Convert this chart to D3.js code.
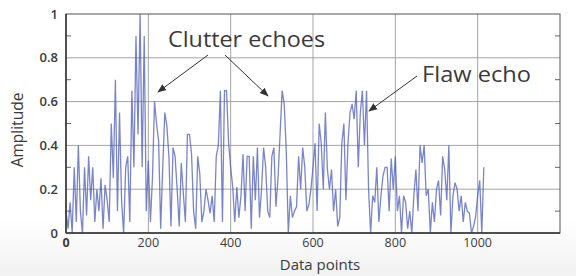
<!DOCTYPE html>
<html><head><meta charset="utf-8">
<script src="https://cdn.jsdelivr.net/npm/d3@7"></script>
<style>
body{margin:0;background:#fff}
svg{display:block}
text{font-family:"Open Sans",sans-serif;fill:#3a3a3a}
</style>
</head><body>
<svg id="c" width="576" height="276"></svg>
<script>
// Amplitude samples, one every 5 data points (index 0 .. 1015)
const amplitude = [
  0.10,0.02,0.14,0.00,0.30,0.05,0.40,0.10,0.00,0.30,0.08,0.35,0.15,0.30,0.05,0.20,0.10,0.25,0.02,0.22,
  0.15,0.05,0.50,0.25,0.70,0.10,0.55,0.15,0.00,0.30,0.35,0.05,0.65,0.30,0.90,0.45,1.00,0.30,0.90,0.10,
  0.33,0.05,0.25,0.60,0.50,0.42,0.02,0.30,0.55,0.49,0.35,0.03,0.39,0.35,0.20,0.03,0.32,0.18,0.05,0.45,
  0.45,0.36,0.10,0.02,0.35,0.27,0.05,0.10,0.20,0.15,0.09,0.17,0.05,0.35,0.40,0.65,0.05,0.65,0.65,0.41,
  0.30,0.21,0.05,0.21,0.07,0.17,0.36,0.10,0.35,0.35,0.02,0.35,0.15,0.39,0.07,0.20,0.39,0.30,0.10,0.07,
  0.35,0.39,0.12,0.25,0.45,0.65,0.59,0.38,0.00,0.17,0.07,0.10,0.12,0.35,0.20,0.39,0.30,0.10,0.13,0.20,
  0.30,0.41,0.10,0.50,0.41,0.20,0.55,0.29,0.20,0.29,0.10,0.20,0.03,0.07,0.41,0.50,0.15,0.41,0.55,0.59,
  0.52,0.65,0.30,0.55,0.65,0.40,0.65,0.20,0.00,0.17,0.14,0.30,0.05,0.17,0.26,0.30,0.30,0.10,0.34,0.20,
  0.35,0.10,0.17,0.00,0.17,0.14,0.02,0.10,0.00,0.17,0.29,0.10,0.40,0.32,0.40,0.17,0.20,0.00,0.14,0.05,
  0.20,0.24,0.08,0.35,0.29,0.15,0.40,0.00,0.17,0.23,0.20,0.10,0.17,0.05,0.14,0.10,0.09,0.00,0.03,0.075,
  0.17,0.24,0.00,0.30
];
const sampleStep = 5;
const xTicks = [0, 200, 400, 600, 800, 1000];
const xTickLabels = ["0", "200", "400", "600", "800", "1000"];
const yTicks = [0, 0.2, 0.4, 0.6, 0.8, 1];
const yTickLabels = ["0", "0.2", "0.4", "0.6", "0.8", "1"];
const yMinorTicks = [0.1, 0.3, 0.5, 0.7, 0.9];
const xLabel = "Data points";
const yLabel = "Amplitude";

const svg = d3.select("#c");
const W = 576, H = 276;
const m = {l: 66, r: 16, t: 14, b: 43};

// subtle background fade
const defs = svg.append("defs");
const g0 = defs.append("linearGradient").attr("id","bg").attr("x1",0).attr("y1",0).attr("x2",0).attr("y2",1);
g0.append("stop").attr("offset","0%").attr("stop-color","#ffffff");
g0.append("stop").attr("offset","80%").attr("stop-color","#ffffff");
g0.append("stop").attr("offset","100%").attr("stop-color","#f1f1f1");
svg.append("rect").attr("width",W).attr("height",H).attr("fill","url(#bg)");

defs.append("marker").attr("id","ah").attr("viewBox","0 0 10 10").attr("refX",9).attr("refY",5)
  .attr("markerWidth",9).attr("markerHeight",9).attr("markerUnits","userSpaceOnUse").attr("orient","auto")
  .append("path").attr("d","M0,1 L10,5 L0,9 Z").attr("fill","#333");

const x = d3.scaleLinear().domain([0, 1200]).range([m.l, W - m.r]);
const y = d3.scaleLinear().domain([0, 1]).range([H - m.b, m.t]);

// grid
svg.append("g").selectAll("line").data(xTicks.slice(1)).join("line")
  .attr("x1", d => x(d)).attr("x2", d => x(d)).attr("y1", y(0)).attr("y2", y(1))
  .attr("stroke", "#9a9a9a").attr("stroke-width", 0.9);
svg.append("g").selectAll("line").data(yTicks.slice(1, -1)).join("line")
  .attr("x1", x(0)).attr("x2", x(1200)).attr("y1", d => y(d)).attr("y2", d => y(d))
  .attr("stroke", "#9a9a9a").attr("stroke-width", 0.9);

// minor ticks both sides
svg.append("g").selectAll("line").data(yMinorTicks).join("line")
  .attr("x1", x(0)).attr("x2", x(0) + 5).attr("y1", d => y(d)).attr("y2", d => y(d))
  .attr("stroke", "#666");
svg.append("g").selectAll("line").data(yMinorTicks).join("line")
  .attr("x1", x(1200)).attr("x2", x(1200) - 5).attr("y1", d => y(d)).attr("y2", d => y(d))
  .attr("stroke", "#666");

// signal
const line = d3.line().x((d, i) => x(i * sampleStep)).y(d => y(d));
svg.append("path").datum(amplitude).attr("d", line)
  .attr("fill", "none").attr("stroke", "#4656b4").attr("stroke-width", 1.3)
  .attr("stroke-opacity", 0.72).attr("stroke-linejoin", "miter");

// frame
svg.append("rect").attr("x", x(0)).attr("y", y(1)).attr("width", x(1200) - x(0)).attr("height", y(0) - y(1))
  .attr("fill", "none").attr("stroke", "#555").attr("stroke-width", 1);
svg.append("line").attr("x1", x(0)).attr("x2", x(0)).attr("y1", y(1)).attr("y2", y(0)).attr("stroke", "#333").attr("stroke-width", 1.5);
svg.append("line").attr("x1", x(0)).attr("x2", x(1200)).attr("y1", y(0)).attr("y2", y(0)).attr("stroke", "#333").attr("stroke-width", 1.5);

// tick labels
svg.append("g").selectAll("text").data(yTicks).join("text")
  .attr("x", x(0) - 8).attr("y", d => y(d)).attr("dy", "0.35em")
  .attr("text-anchor", "end").attr("font-size", 13).attr("font-weight", 600)
  .text((d, i) => yTickLabels[i]);
svg.append("g").selectAll("text").data(xTicks).join("text")
  .attr("x", d => x(d)).attr("y", y(0) + 14)
  .attr("text-anchor", "middle").attr("font-size", 12.5)
  .attr("font-weight", (d, i) => i === 0 ? 700 : 400)
  .text((d, i) => xTickLabels[i]);

// axis labels
svg.append("text").attr("x", 320).attr("y", 270).attr("text-anchor", "middle").attr("font-size", 15).text(xLabel);
svg.append("text").attr("transform", "translate(23,130) rotate(-90)").attr("text-anchor", "middle").attr("font-size", 15.5).text(yLabel);

// annotations
svg.append("text").attr("x", 168).attr("y", 47).attr("font-size", 22).attr("textLength", 157).attr("lengthAdjust", "spacingAndGlyphs").text("Clutter echoes");
svg.append("text").attr("x", 422).attr("y", 82).attr("font-size", 22).attr("textLength", 109).attr("lengthAdjust", "spacingAndGlyphs").text("Flaw echo");
const arrows = [[208, 55, 158, 92], [225, 55, 268, 96], [417, 76, 369, 111]];
svg.append("g").selectAll("line").data(arrows).join("line")
  .attr("x1", d => d[0]).attr("y1", d => d[1]).attr("x2", d => d[2]).attr("y2", d => d[3])
  .attr("stroke", "#333").attr("stroke-width", 1).attr("marker-end", "url(#ah)");
</script>
</body></html>
